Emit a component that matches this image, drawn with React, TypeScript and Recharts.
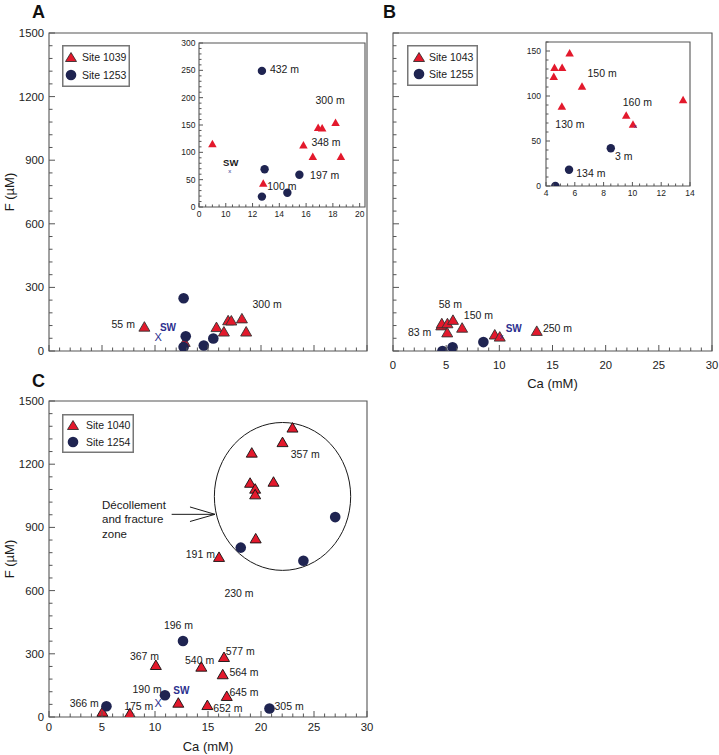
import React from "react";
import {
  Legend,
  ReferenceArea,
  ReferenceDot,
  ReferenceLine,
  Scatter,
  ScatterChart,
  XAxis,
  YAxis,
} from "recharts";

type Pt = { ca: number; f: number };
type Tag = { ca: number; f: number; text: string };

// ---------- Panel A: Site 1039 / Site 1253 (main plot + inset share the points)
const site1039: Pt[] = [
  { ca: 9.0, f: 116 },
  { ca: 12.8, f: 44 },
  { ca: 15.8, f: 114 },
  { ca: 16.5, f: 93 },
  { ca: 16.9, f: 146 },
  { ca: 17.2, f: 145 },
  { ca: 18.2, f: 155 },
  { ca: 18.6, f: 93 },
];
const site1253: Pt[] = [
  { ca: 12.7, f: 249 },
  { ca: 12.9, f: 69 },
  { ca: 12.7, f: 19 },
  { ca: 14.6, f: 26 },
  { ca: 15.5, f: 59 },
];
const swA: Pt[] = [{ ca: 10.3, f: 65 }];
const depthsA: Tag[] = [
  { ca: 5.9, f: 126, text: "55 m" },
  { ca: 19.2, f: 224, text: "300 m" },
];
const swTextA: Tag[] = [{ ca: 10.46, f: 113, text: "SW" }];
const depthsAInset: Tag[] = [
  { ca: 13.3, f: 253, text: "432 m" },
  { ca: 16.7, f: 195, text: "300 m" },
  { ca: 16.4, f: 119, text: "348 m" },
  { ca: 16.3, f: 58, text: "197 m" },
  { ca: 13.1, f: 38, text: "100 m" },
];
const swTextAInset: Tag[] = [{ ca: 9.8, f: 82, text: "SW" }];

// ---------- Panel B: Site 1043 / Site 1255
const site1043: Pt[] = [
  { ca: 4.54, f: 122 },
  { ca: 4.59, f: 132 },
  { ca: 5.12, f: 132 },
  { ca: 5.64, f: 148 },
  { ca: 6.5, f: 111 },
  { ca: 5.1, f: 89 },
  { ca: 9.57, f: 79 },
  { ca: 10.04, f: 69 },
  { ca: 13.52, f: 96 },
];
const site1255: Pt[] = [
  { ca: 4.65, f: 0 },
  { ca: 5.6, f: 18 },
  { ca: 8.5, f: 42 },
];
const swB: Pt[] = [{ ca: 10.2, f: 67 }];
const depthsB: Tag[] = [
  { ca: 4.3, f: 224, text: "58 m" },
  { ca: 6.66, f: 172, text: "150 m" },
  { ca: 1.41, f: 90, text: "83 m" },
  { ca: 14.1, f: 110, text: "250 m" },
];
const swTextB: Tag[] = [{ ca: 10.6, f: 106, text: "SW" }];
const depthsBInset: Tag[] = [
  { ca: 6.88, f: 126, text: "150 m" },
  { ca: 9.33, f: 93, text: "160 m" },
  { ca: 4.65, f: 69, text: "130 m" },
  { ca: 8.8, f: 33, text: "3 m" },
  { ca: 6.1, f: 14, text: "134 m" },
];

// ---------- Panel C: Site 1040 / Site 1254
const site1040: Pt[] = [
  { ca: 22.97, f: 1375 },
  { ca: 22.03, f: 1306 },
  { ca: 19.13, f: 1256 },
  { ca: 21.18, f: 1118 },
  { ca: 18.97, f: 1113 },
  { ca: 19.45, f: 1085 },
  { ca: 19.45, f: 1058 },
  { ca: 19.5, f: 849 },
  { ca: 16.04, f: 761 },
  { ca: 10.08, f: 248 },
  { ca: 14.37, f: 240 },
  { ca: 16.51, f: 286 },
  { ca: 16.39, f: 204 },
  { ca: 16.77, f: 101 },
  { ca: 12.2, f: 69 },
  { ca: 14.94, f: 58 },
  { ca: 5.04, f: 26 },
  { ca: 7.63, f: 19 },
];
const site1254: Pt[] = [
  { ca: 27.0, f: 949 },
  { ca: 24.0, f: 742 },
  { ca: 18.09, f: 804 },
  { ca: 12.64, f: 361 },
  { ca: 10.94, f: 103 },
  { ca: 5.42, f: 51 },
  { ca: 20.8, f: 40 },
];
const swC: Pt[] = [{ ca: 10.3, f: 66 }];
const depthsC: Tag[] = [
  { ca: 22.8, f: 1247, text: "357 m" },
  { ca: 12.9, f: 775, text: "191 m" },
  { ca: 16.55, f: 589, text: "230 m" },
  { ca: 10.84, f: 438, text: "196 m" },
  { ca: 7.63, f: 288, text: "367 m" },
  { ca: 16.67, f: 313, text: "577 m" },
  { ca: 12.83, f: 272, text: "540 m" },
  { ca: 17.02, f: 214, text: "564 m" },
  { ca: 7.88, f: 131, text: "190 m" },
  { ca: 17.02, f: 119, text: "645 m" },
  { ca: 1.95, f: 68, text: "366 m" },
  { ca: 7.09, f: 52, text: "175 m" },
  { ca: 15.5, f: 43, text: "652 m" },
  { ca: 21.27, f: 52, text: "305 m" },
];
const swTextC: Tag[] = [{ ca: 11.72, f: 127, text: "SW" }];
const zoneLines = ["Décollement", "and fracture", "zone"];
const zoneTextAt: Pt = { ca: 5.0, f: 1005 };
const zoneCenter: Pt = { ca: 22.03, f: 1047 };
const zoneRadius: Pt = { ca: 6.43, f: 351 };
const arrowShaft: Pt[] = [
  { ca: 11.57, f: 962 },
  { ca: 15.66, f: 962 },
];
const arrowHeadUp: Pt[] = [
  { ca: 13.3, f: 997 },
  { ca: 15.66, f: 962 },
];
const arrowHeadDown: Pt[] = [
  { ca: 13.3, f: 928 },
  { ca: 15.66, f: 962 },
];

// ---------- ticks
const range = (a: number, b: number, step: number) => {
  const out: number[] = [];
  for (let v = a; v <= b + 1e-9; v += step) out.push(Math.round(v * 100) / 100);
  return out;
};
const MAIN_X_TICKS = range(0, 30, 1);
const MAIN_X_MAJOR = [0, 5, 10, 15, 20, 25, 30];
const MAIN_Y_TICKS = range(0, 1500, 60);
const MAIN_Y_MAJOR = [0, 300, 600, 900, 1200, 1500];
const INSET_A_X_TICKS = range(8, 20, 0.5);
const INSET_A_X_MAJOR = [8, 10, 12, 14, 16, 18, 20];
const INSET_A_Y_TICKS = range(0, 300, 10);
const INSET_A_Y_MAJOR = [0, 50, 100, 150, 200, 250, 300];
const INSET_B_X_TICKS = range(4, 14, 0.5);
const INSET_B_X_MAJOR = [4, 6, 8, 10, 12, 14];
const INSET_B_Y_TICKS = range(0, 160, 10);
const INSET_B_Y_MAJOR = [0, 50, 100, 150];

const RED = "#e3192c";
const NAVY = "#1f2451";
const SW_BLUE = "#2b2f8e";
const AXIS = "#555";
const INK = "#1a1a1a";
const FONT = "'Liberation Sans', Arial, Helvetica, sans-serif";

// ---------- shapes
const triangle = (w: number, h: number, outline: string) => (p: any) => (
  <polygon
    points={`${p.cx},${p.cy - h / 2} ${p.cx - w / 2},${p.cy + h / 2} ${p.cx + w / 2},${p.cy + h / 2}`}
    fill={RED}
    stroke={outline}
    strokeWidth={0.9}
  />
);
const dot = (r: number) => (p: any) => <circle cx={p.cx} cy={p.cy} r={r} fill={NAVY} />;
const swMark = (glyph: string, size: number) => (p: any) => (
  <text x={p.cx} y={p.cy} textAnchor="middle" dominantBaseline="central" fontSize={size} fill={SW_BLUE} fontFamily={FONT}>
    {glyph}
  </text>
);
const tagText = (size: number, color: string, bold = false) => (p: any) => (
  <text x={p.cx} y={p.cy} dominantBaseline="central" fontSize={size} fill={color} fontWeight={bold ? "bold" : "normal"} fontFamily={FONT}>
    {p.payload?.text}
  </text>
);

// ---------- axes
const tickMark =
  (side: "bottom" | "top" | "left", major: number[], long: number, short: number, show: boolean, font: number, gap: number, fmt?: (v: number) => string) =>
  (props: any) => {
    const { x, y, payload } = props;
    const v: number = payload.value;
    const isMajor = major.some((m) => Math.abs(m - v) < 1e-6);
    const len = isMajor ? long : short;
    const text = show && isMajor ? (fmt ? fmt(v) : String(v)) : null;
    if (side === "left")
      return (
        <g>
          <line x1={x} y1={y} x2={x + len} y2={y} stroke={AXIS} strokeWidth={1} />
          {text !== null && (
            <text x={x - gap} y={y} textAnchor="end" dominantBaseline="central" fontSize={font} fill="#222" fontFamily={FONT}>
              {text}
            </text>
          )}
        </g>
      );
    if (side === "top") return <line x1={x} y1={y} x2={x} y2={y + len} stroke={AXIS} strokeWidth={1} />;
    return (
      <g>
        <line x1={x} y1={y} x2={x} y2={y - len} stroke={AXIS} strokeWidth={1} />
        {text !== null && (
          <text x={x} y={y + gap} dy="0.71em" textAnchor="middle" fontSize={font} fill="#222" fontFamily={FONT}>
            {text}
          </text>
        )}
      </g>
    );
  };

type FrameCfg = {
  xDomain: [number, number];
  yDomain: [number, number];
  xTicks: number[];
  xMajor: number[];
  yTicks: number[];
  yMajor: number[];
  yWidth: number;
  xHeight: number;
  xLabels: boolean;
  yLabels: boolean;
  font: number;
  long: number;
  short: number;
  xGap: number;
  yGap: number;
  xFmt?: (v: number) => string;
  xTitleAt?: number;
  yTitleAt?: number;
};

const frame = (c: FrameCfg) => [
  <XAxis
    key="xb"
    type="number"
    dataKey="ca"
    domain={c.xDomain}
    allowDataOverflow
    ticks={c.xTicks}
    interval={0}
    height={c.xHeight}
    axisLine={false}
    tickLine={false}
    tickSize={0}
    tickMargin={0}
    tick={tickMark("bottom", c.xMajor, c.long, c.short, c.xLabels, c.font, c.xGap, c.xFmt)}
    label={
      c.xTitleAt !== undefined
        ? ({ viewBox }: any) => (
            <text x={viewBox.x + viewBox.width / 2} y={viewBox.y + c.xTitleAt!} textAnchor="middle" dominantBaseline="central" fontSize={13} fill={INK} fontFamily={FONT}>
              Ca (mM)
            </text>
          )
        : undefined
    }
  />,
  <XAxis
    key="xt"
    xAxisId="top"
    orientation="top"
    type="number"
    domain={c.xDomain}
    allowDataOverflow
    ticks={c.xTicks}
    interval={0}
    height={5}
    axisLine={false}
    tickLine={false}
    tickSize={0}
    tickMargin={0}
    tick={tickMark("top", c.xMajor, c.long, c.short, false, c.font, 0)}
  />,
  <YAxis
    key="yl"
    type="number"
    dataKey="f"
    domain={c.yDomain}
    allowDataOverflow
    ticks={c.yTicks}
    interval={0}
    width={c.yWidth}
    axisLine={false}
    tickLine={false}
    tickSize={0}
    tickMargin={0}
    tick={tickMark("left", c.yMajor, c.long, c.short, c.yLabels, c.font, c.yGap)}
    label={
      c.yTitleAt !== undefined
        ? ({ viewBox }: any) => {
            const cx = viewBox.x + c.yTitleAt!;
            const cy = viewBox.y + viewBox.height / 2;
            return (
              <text x={cx} y={cy} transform={`rotate(-90 ${cx} ${cy})`} textAnchor="middle" dominantBaseline="central" fontSize={13} fill={INK} fontFamily={FONT}>
                F (µM)
              </text>
            );
          }
        : undefined
    }
  />,
  <ReferenceArea
    key="box"
    x1={c.xDomain[0]}
    x2={c.xDomain[1]}
    y1={c.yDomain[0]}
    y2={c.yDomain[1]}
    fill="none"
    stroke={AXIS}
    strokeWidth={1.1}
    ifOverflow="visible"
  />,
];

const legendBox =
  (w: number, h: number, iconX: number, textX: number, rows: number[]) => (props: any) => {
    const items = (props.payload ?? []).filter((e: any) => e.type !== "none");
    return (
      <svg width={w} height={h} style={{ display: "block" }}>
        <rect x={0.75} y={0.75} width={w - 1.5} height={h - 1.5} fill="#fff" stroke="#777" strokeWidth={1.5} />
        {items.map((e: any, i: number) => (
          <g key={i}>
            {e.type === "triangle" ? (
              <polygon points={`${iconX},${rows[i] - 4.5} ${iconX - 5.5},${rows[i] + 4.5} ${iconX + 5.5},${rows[i] + 4.5}`} fill={RED} stroke="#222" strokeWidth={0.8} />
            ) : (
              <circle cx={iconX} cy={rows[i]} r={5.3} fill={NAVY} />
            )}
            <text x={textX} y={rows[i]} dominantBaseline="central" fontSize={10.5} fill={INK} fontFamily={FONT}>
              {e.value}
            </text>
          </g>
        ))}
      </svg>
    );
  };

const mainFrame = (labelsX: boolean, labelsY: boolean, xGap: number, xHeight: number, xTitleAt?: number, yTitleAt?: number): FrameCfg => ({
  xDomain: [0, 30],
  yDomain: [0, 1500],
  xTicks: MAIN_X_TICKS,
  xMajor: MAIN_X_MAJOR,
  yTicks: MAIN_Y_TICKS,
  yMajor: MAIN_Y_MAJOR,
  yWidth: 49,
  xHeight,
  xLabels: labelsX,
  yLabels: labelsY,
  font: 11.3,
  long: 6,
  short: 3.5,
  xGap,
  yGap: 5,
  xTitleAt,
  yTitleAt,
});

const abs = (left: number, top: number): React.CSSProperties => ({ position: "absolute", left, top });

const PLOT_W = 318;
const PLOT_H = 316;

export default function App() {
  return (
    <div style={{ position: "absolute", left: 0, top: 0, width: 719, height: 755, background: "#fff", fontFamily: FONT }}>
      {/* Panel A */}
      <div style={abs(0, 0)}>
        <ScatterChart width={380} height={370} margin={{ top: 28, right: 13, bottom: 0, left: 0 }}>
          {frame(mainFrame(false, true, 0, 19, undefined, 9))}
          <Scatter name="Site 1039" legendType="triangle" data={site1039} fill={RED} shape={triangle(11, 9.5, "#333")} isAnimationActive={false} />
          <Scatter name="Site 1253" legendType="circle" data={site1253} fill={NAVY} shape={dot(5.3)} isAnimationActive={false} />
          <Scatter legendType="none" data={swA} shape={swMark("X", 11)} isAnimationActive={false} />
          <Scatter legendType="none" data={depthsA} shape={tagText(10.5, INK)} isAnimationActive={false} />
          <Scatter legendType="none" data={swTextA} shape={tagText(10, SW_BLUE, true)} isAnimationActive={false} />
          <Legend
            layout="vertical"
            align="center"
            verticalAlign="middle"
            content={legendBox(68, 42, 9, 20, [12, 30])}
            wrapperStyle={{ position: "absolute", left: 62, top: 45, width: 68, height: 42 }}
          />
        </ScatterChart>
      </div>
      {/* Panel A inset */}
      <div style={abs(170, 38)}>
        <ScatterChart width={200} height={185} margin={{ top: 0, right: 5, bottom: 0, left: 0 }}>
          {frame({
            xDomain: [8, 20.4],
            yDomain: [0, 300],
            xTicks: INSET_A_X_TICKS,
            xMajor: INSET_A_X_MAJOR,
            yTicks: INSET_A_Y_TICKS,
            yMajor: INSET_A_Y_MAJOR,
            yWidth: 29,
            xHeight: 16,
            xLabels: true,
            yLabels: true,
            font: 8.5,
            long: 4,
            short: 2.5,
            xGap: 4,
            yGap: 3.5,
            xFmt: (v) => (v === 8 ? "0" : String(v)),
          })}
          <Scatter data={site1039} shape={triangle(8.5, 7.5, "none")} isAnimationActive={false} />
          <Scatter data={site1253} shape={dot(4.2)} isAnimationActive={false} />
          <Scatter data={swA} shape={swMark("x", 6)} isAnimationActive={false} />
          <Scatter data={depthsAInset} shape={tagText(10.5, INK)} isAnimationActive={false} />
          <Scatter data={swTextAInset} shape={tagText(9.5, INK, true)} isAnimationActive={false} />
        </ScatterChart>
      </div>
      {/* Panel B */}
      <div style={abs(344, 0)}>
        <ScatterChart width={375} height={400} margin={{ top: 28, right: 7, bottom: 0, left: 0 }}>
          {frame(mainFrame(true, false, 10, 49, 32))}
          <Scatter name="Site 1043" legendType="triangle" data={site1043} fill={RED} shape={triangle(11, 9.5, "#333")} isAnimationActive={false} />
          <Scatter name="Site 1255" legendType="circle" data={site1255} fill={NAVY} shape={dot(5.3)} isAnimationActive={false} />
          <Scatter legendType="none" data={swB} shape={swMark("x", 8)} isAnimationActive={false} />
          <Scatter legendType="none" data={depthsB} shape={tagText(10.5, INK)} isAnimationActive={false} />
          <Scatter legendType="none" data={swTextB} shape={tagText(10, SW_BLUE, true)} isAnimationActive={false} />
          <Legend
            layout="vertical"
            align="center"
            verticalAlign="middle"
            content={legendBox(71, 41, 12, 22, [12, 29])}
            wrapperStyle={{ position: "absolute", left: 63, top: 45, width: 71, height: 41 }}
          />
        </ScatterChart>
      </div>
      {/* Panel B inset */}
      <div style={abs(516, 37)}>
        <ScatterChart width={179} height={165} margin={{ top: 0, right: 5, bottom: 0, left: 0 }}>
          {frame({
            xDomain: [4, 14],
            yDomain: [0, 160],
            xTicks: INSET_B_X_TICKS,
            xMajor: INSET_B_X_MAJOR,
            yTicks: INSET_B_Y_TICKS,
            yMajor: INSET_B_Y_MAJOR,
            yWidth: 30,
            xHeight: 16,
            xLabels: true,
            yLabels: true,
            font: 8.5,
            long: 4,
            short: 2.5,
            xGap: 4,
            yGap: 5,
          })}
          <Scatter data={site1043} shape={triangle(8.5, 7.5, "none")} isAnimationActive={false} />
          <Scatter data={site1255} shape={dot(4.2)} isAnimationActive={false} />
          <Scatter data={swB} shape={swMark("x", 6)} isAnimationActive={false} />
          <Scatter data={depthsBInset} shape={tagText(10.5, INK)} isAnimationActive={false} />
        </ScatterChart>
      </div>
      {/* Panel C */}
      <div style={abs(0, 370)}>
        <ScatterChart width={380} height={385} margin={{ top: 26, right: 13, bottom: 0, left: 0 }}>
          {frame(mainFrame(true, true, 6, 38, 29, 9))}
          <ReferenceDot
            x={zoneCenter.ca}
            y={zoneCenter.f}
            r={0}
            shape={(p: any) => (
              <ellipse cx={p.cx} cy={p.cy} rx={(zoneRadius.ca * PLOT_W) / 30} ry={(zoneRadius.f * PLOT_H) / 1500} fill="none" stroke={INK} strokeWidth={1} />
            )}
          />
          <ReferenceLine segment={arrowShaft.map((d) => ({ x: d.ca, y: d.f }))} stroke={INK} strokeWidth={1} />
          <ReferenceLine segment={arrowHeadUp.map((d) => ({ x: d.ca, y: d.f }))} stroke={INK} strokeWidth={1} />
          <ReferenceLine segment={arrowHeadDown.map((d) => ({ x: d.ca, y: d.f }))} stroke={INK} strokeWidth={1} />
          <ReferenceDot
            x={zoneTextAt.ca}
            y={zoneTextAt.f}
            r={0}
            shape={(p: any) => (
              <text x={p.cx} y={p.cy} fontSize={11.5} fill={INK} fontFamily={FONT} dominantBaseline="central">
                {zoneLines.map((line, i) => (
                  <tspan key={i} x={p.cx} dy={i === 0 ? 0 : 14.2}>
                    {line}
                  </tspan>
                ))}
              </text>
            )}
          />
          <Scatter name="Site 1040" legendType="triangle" data={site1040} fill={RED} shape={triangle(11, 9.5, "#111")} isAnimationActive={false} />
          <Scatter name="Site 1254" legendType="circle" data={site1254} fill={NAVY} shape={dot(5.3)} isAnimationActive={false} />
          <Scatter legendType="none" data={swC} shape={swMark("X", 11)} isAnimationActive={false} />
          <Scatter legendType="none" data={depthsC} shape={tagText(10.5, INK)} isAnimationActive={false} />
          <Scatter legendType="none" data={swTextC} shape={tagText(10, SW_BLUE, true)} isAnimationActive={false} />
          <Legend
            layout="vertical"
            align="center"
            verticalAlign="middle"
            content={legendBox(72, 39, 11, 24, [11, 28])}
            wrapperStyle={{ position: "absolute", left: 62, top: 44, width: 72, height: 39 }}
          />
        </ScatterChart>
      </div>
      {/* panel letters */}
      <svg width={719} height={755} style={{ position: "absolute", left: 0, top: 0, pointerEvents: "none" }}>
        <text x={32} y={18} fontSize={18} fontWeight="bold" fill="#111" fontFamily={FONT}>A</text>
        <text x={383} y={18} fontSize={18} fontWeight="bold" fill="#111" fontFamily={FONT}>B</text>
        <text x={32} y={387} fontSize={18} fontWeight="bold" fill="#111" fontFamily={FONT}>C</text>
      </svg>
    </div>
  );
}
